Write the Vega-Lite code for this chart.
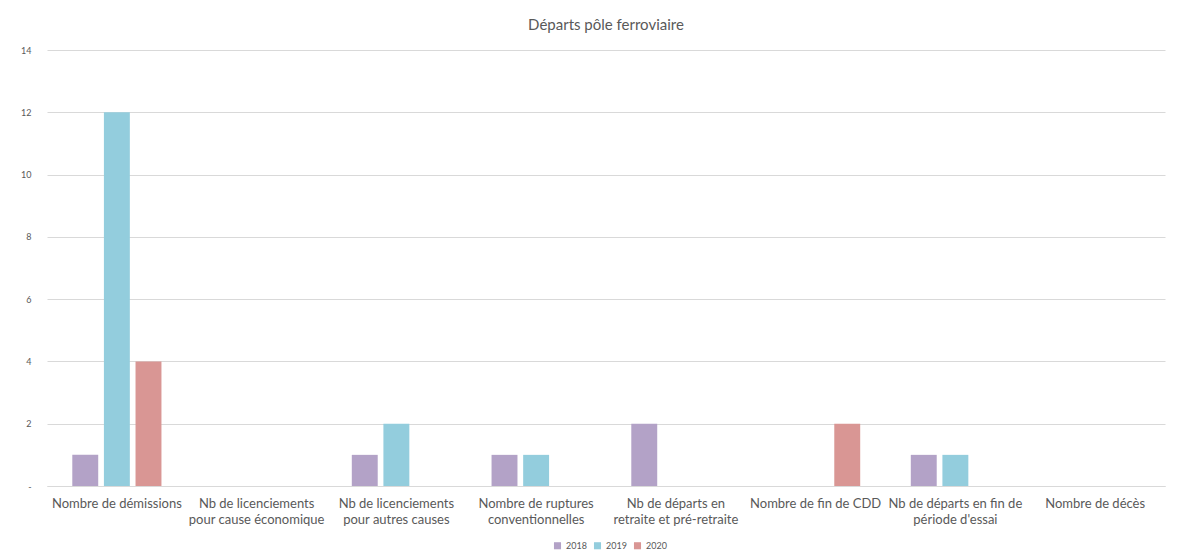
{
  "$schema": "https://vega.github.io/schema/vega-lite/v6.json",
  "width": 1118,
  "height": 436,
  "padding": {"left": 20, "top": 18, "right": 15, "bottom": 8},
  "background": "white",
  "title": {"text": "Départs pôle ferroviaire", "fontSize": 15, "font": "Lato", "fontWeight": "normal", "color": "#595959", "offset": 13},
  "data": {"values": [
    {"cat": "Nombre de démissions", "year": "2018", "value": 1},
    {"cat": "Nombre de démissions", "year": "2019", "value": 12},
    {"cat": "Nombre de démissions", "year": "2020", "value": 4},
    {"cat": "Nb de licenciements pour cause économique", "year": "2018", "value": 0},
    {"cat": "Nb de licenciements pour cause économique", "year": "2019", "value": 0},
    {"cat": "Nb de licenciements pour cause économique", "year": "2020", "value": 0},
    {"cat": "Nb de licenciements pour autres causes", "year": "2018", "value": 1},
    {"cat": "Nb de licenciements pour autres causes", "year": "2019", "value": 2},
    {"cat": "Nb de licenciements pour autres causes", "year": "2020", "value": 0},
    {"cat": "Nombre de ruptures conventionnelles", "year": "2018", "value": 1},
    {"cat": "Nombre de ruptures conventionnelles", "year": "2019", "value": 1},
    {"cat": "Nombre de ruptures conventionnelles", "year": "2020", "value": 0},
    {"cat": "Nb de départs en retraite et pré-retraite", "year": "2018", "value": 2},
    {"cat": "Nb de départs en retraite et pré-retraite", "year": "2019", "value": 0},
    {"cat": "Nb de départs en retraite et pré-retraite", "year": "2020", "value": 0},
    {"cat": "Nombre de fin de CDD", "year": "2018", "value": 0},
    {"cat": "Nombre de fin de CDD", "year": "2019", "value": 0},
    {"cat": "Nombre de fin de CDD", "year": "2020", "value": 2},
    {"cat": "Nb de départs en fin de période d'essai", "year": "2018", "value": 1},
    {"cat": "Nb de départs en fin de période d'essai", "year": "2019", "value": 1},
    {"cat": "Nb de départs en fin de période d'essai", "year": "2020", "value": 0},
    {"cat": "Nombre de décès", "year": "2018", "value": 0},
    {"cat": "Nombre de décès", "year": "2019", "value": 0},
    {"cat": "Nombre de décès", "year": "2020", "value": 0}
  ]},
  "mark": {"type": "bar"},
  "encoding": {
    "x": {
      "field": "cat", "type": "nominal", "sort": null, "title": null,
      "scale": {"paddingInner": 0, "paddingOuter": 0},
      "axis": {
        "labelAngle": 0, "ticks": false, "domainColor": "#d9d9d9", "grid": false,
        "labelFont": "Lato", "labelFontSize": 13, "labelColor": "#595959", "labelPadding": 11,
        "labelLimit": 200, "labelLineHeight": 16,
        "labelExpr": "datum.label == 'Nb de licenciements pour cause économique' ? ['Nb de licenciements', 'pour cause économique'] : datum.label == 'Nb de licenciements pour autres causes' ? ['Nb de licenciements', 'pour autres causes'] : datum.label == 'Nombre de ruptures conventionnelles' ? ['Nombre de ruptures', 'conventionnelles'] : datum.label == 'Nb de départs en retraite et pré-retraite' ? ['Nb de départs en', 'retraite et pré-retraite'] : datum.label == \"Nb de départs en fin de période d'essai\" ? ['Nb de départs en fin de', \"période d'essai\"] : datum.label"
      }
    },
    "xOffset": {"field": "year", "type": "nominal", "scale": {"paddingInner": 0.18, "paddingOuter": 0.8}},
    "y": {
      "field": "value", "type": "quantitative", "title": null,
      "scale": {"domain": [0, 14]},
      "axis": {
        "values": [0, 2, 4, 6, 8, 10, 12, 14], "ticks": false, "domain": false,
        "gridColor": "#d9d9d9", "labelFont": "Lato", "labelFontSize": 9, "labelColor": "#595959",
        "labelPadding": 16,
        "labelExpr": "datum.value == 0 ? '-' : datum.label"
      }
    },
    "color": {
      "field": "year", "type": "nominal", "title": null,
      "scale": {"domain": ["2018", "2019", "2020"], "range": ["#b3a2c7", "#93cddd", "#d99694"]},
      "legend": {
        "orient": "none", "legendX": 506, "legendY": 491, "direction": "horizontal", "symbolType": "square", "symbolSize": 50,
        "labelFont": "Lato", "labelFontSize": 9, "labelColor": "#595959", "columnPadding": 6,
        "symbolStrokeWidth": 0
      }
    }
  },
  "config": {"view": {"stroke": null}}
}
